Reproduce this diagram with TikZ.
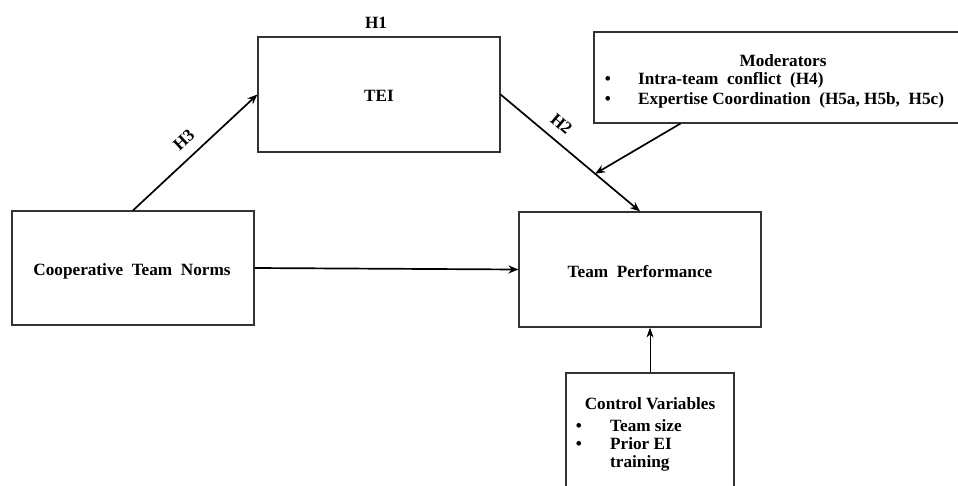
\documentclass[tikz,border=0pt]{standalone}
\usepackage{fontspec}
\setmainfont{Liberation Serif}
\usetikzlibrary{arrows.meta,calc}
\begin{document}
\begin{tikzpicture}[x=1pt,y=1pt,
  box/.style={draw=black!80,line width=1.2pt,minimum width=#1,inner sep=0pt},
  lbl/.style={font=\fontsize{17.2}{20}\selectfont\bfseries,inner sep=0pt},
  arr/.style={line width=1.7pt,-{Stealth[length=10pt,width=8pt]}},
  thinarr/.style={line width=0.8pt,-{Stealth[length=10pt,width=7pt]}}]
\useasboundingbox (0,0) rectangle (958,-485);
\node[box=242pt,minimum height=115pt] (tei) at (379,-94.5) {};
\node[lbl,anchor=base] (teit) at (379,-101) {TEI};
\node[lbl,anchor=base] (h1) at (376,-28) {H1};
\node[box=242pt,minimum height=114pt] (coop) at (133,-268) {};
\node[lbl,anchor=base] (coopt) at (132,-275) {Cooperative\ \ Team\ \ Norms};
\node[box=242pt,minimum height=115pt] (tp) at (640,-269.5) {};
\node[lbl,anchor=base] (tpt) at (640,-277) {Team\ \ Performance};
\node[box=372pt,minimum height=91pt] (mod) at (780,-77.5) {};
\node[lbl,anchor=base] (modt) at (783,-66) {Moderators};
\node[lbl,anchor=base] (mb1) at (608,-84) {\textbullet};
\node[lbl,anchor=base] (mb2) at (608,-104) {\textbullet};
\node[lbl,anchor=base west] (m1) at (638,-84) {Intra-team\ \ conflict\ \ (H4)};
\node[lbl,anchor=base west] (m2) at (638,-104) {Expertise Coordination\ \ (H5a, H5b,\ \ H5c)};
\node[box=168pt,minimum height=117pt] (ctrl) at (650,-431.5) {};
\node[lbl,anchor=base] (ctrlt) at (650,-409) {Control Variables};
\node[lbl,anchor=base] (cb1) at (579,-431) {\textbullet};
\node[lbl,anchor=base] (cb2) at (579,-449) {\textbullet};
\node[lbl,anchor=base west] (c1) at (610,-431) {Team size};
\node[lbl,anchor=base west] (c2) at (610,-449) {Prior EI};
\node[lbl,anchor=base west] (c3) at (610,-467) {training};
\coordinate (hit) at ($(tei.east)!0.678!(tp.north)$);
\coordinate (modout) at ($(mod.south west)+(87,0)$);
\draw[arr] (coop.north) -- (tei.west) node[lbl,midway,sloped,above=10pt] (h3) {H3};
\draw[arr] (tei.east) -- (tp.north) node[lbl,pos=0.36,sloped,above=10pt] (h2) {H2};
\draw[arr] (modout) -- (hit);
\draw[arr] (coop.east) -- (tp.west);
\draw[thinarr] (ctrl.north) -- (ctrl.north |- tp.south);
\end{tikzpicture}
\end{document}
